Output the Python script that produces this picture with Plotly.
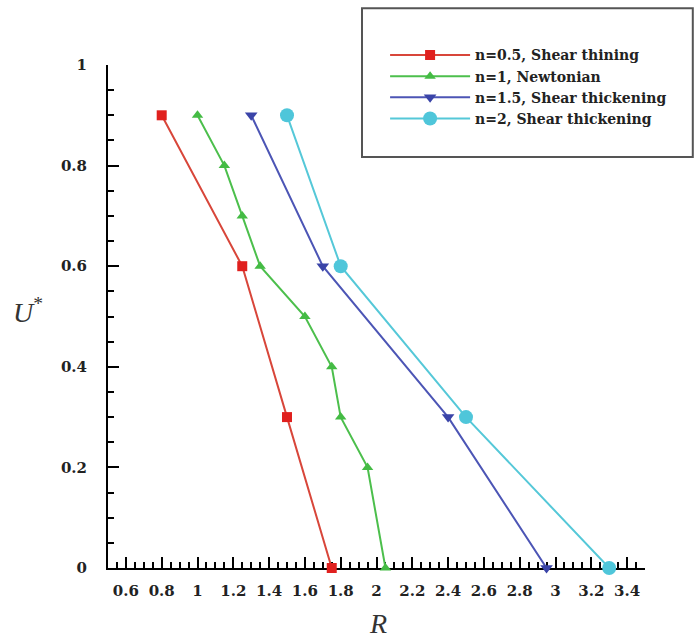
import plotly.graph_objects as go

# Radius R versus dimensionless velocity U* for several power-law indices
r_shear_thinning = [0.8, 1.25, 1.5, 1.75]
u_shear_thinning = [0.9, 0.6, 0.3, 0.0]

r_newtonian = [1.0, 1.15, 1.25, 1.35, 1.6, 1.75, 1.8, 1.95, 2.05]
u_newtonian = [0.9, 0.8, 0.7, 0.6, 0.5, 0.4, 0.3, 0.2, 0.0]

r_thick_15 = [1.3, 1.7, 2.4, 2.95]
u_thick_15 = [0.9, 0.6, 0.3, 0.0]

r_thick_2 = [1.5, 1.8, 2.5, 3.3]
u_thick_2 = [0.9, 0.6, 0.3, 0.0]

series_names = [
    "n=0.5, Shear thining",
    "n=1, Newtonian",
    "n=1.5, Shear thickening",
    "n=2, Shear thickening",
]

x_ticks = [0.6, 0.8, 1, 1.2, 1.4, 1.6, 1.8, 2, 2.2, 2.4, 2.6, 2.8, 3, 3.2, 3.4]
x_ticktext = ["0.6", "0.8", "1", "1.2", "1.4", "1.6", "1.8", "2", "2.2", "2.4", "2.6", "2.8", "3", "3.2", "3.4"]
y_ticks = [0, 0.2, 0.4, 0.6, 0.8, 1]
y_ticktext = ["0", "0.2", "0.4", "0.6", "0.8", "1"]

serif = "Liberation Serif, Times New Roman, serif"
label_serif = "DejaVu Serif, serif"

fig = go.Figure()

styles = [
    (r_shear_thinning, u_shear_thinning, "#d8463a", "#e0201e", "square", 10),
    (r_newtonian, u_newtonian, "#4cbf4c", "#44bb44", "triangle-up", 10),
    (r_thick_15, u_thick_15, "#4c55b5", "#3a44a8", "triangle-down", 11),
    (r_thick_2, u_thick_2, "#55c8d8", "#4fc6da", "circle", 14),
]

for (xs, ys, lc, mc, sym, sz), name in zip(styles, series_names):
    fig.add_trace(go.Scatter(
        x=xs, y=ys, name=name, mode="lines+markers",
        line=dict(color=lc, width=2),
        marker=dict(symbol=sym, size=sz, color=mc, line=dict(width=0)),
        cliponaxis=False,
    ))

axis_common = dict(
    showline=True, linecolor="black", linewidth=2,
    ticks="inside", ticklen=11, tickwidth=2, tickcolor="black",
    showgrid=False, zeroline=False, layer="below traces",
    tickfont=dict(family=label_serif, size=15, color="#222", weight="bold"),
)

fig.update_layout(
    width=696, height=638,
    margin=dict(l=108, r=51, t=65, b=70),
    paper_bgcolor="white", plot_bgcolor="white",
    xaxis=dict(
        range=[0.5, 3.5], tickvals=x_ticks, ticktext=x_ticktext,
        ticklabelstandoff=8,
        minor=dict(dtick=0.05, tick0=0, ticks="inside", ticklen=6, tickwidth=1.5, tickcolor="black"),
        **axis_common,
    ),
    yaxis=dict(
        range=[0, 1], tickvals=y_ticks, ticktext=y_ticktext,
        ticklabelstandoff=16,
        minor=dict(dtick=0.05, tick0=0, ticks="inside", ticklen=6, tickwidth=1.5, tickcolor="black"),
        **axis_common,
    ),
    showlegend=True,
    legend=dict(
        x=0.516, y=1.051, xanchor="left", yanchor="top",
        bgcolor="rgba(0,0,0,0)", borderwidth=0,
        font=dict(family=label_serif, size=14, color="#222", weight="bold"),
        itemwidth=80, tracegroupgap=0,
    ),
    shapes=[dict(
        type="rect", xref="paper", yref="paper",
        x0=0.473, x1=1.089, y0=0.817, y1=1.113,
        line=dict(color="#555", width=2), fillcolor="rgba(0,0,0,0)",
    )],
    annotations=[
        dict(text="<i>U</i><sup>*</sup>", xref="paper", yref="paper",
             x=-0.149, y=0.511, xanchor="center", yanchor="middle",
             showarrow=False,
             font=dict(family=serif, size=28, color="#333")),
        dict(text="<i>R</i>", xref="paper", yref="paper",
             x=0.503, y=-0.111, xanchor="center", yanchor="middle",
             showarrow=False,
             font=dict(family=serif, size=28, color="#333")),
    ],
)

fig.write_html("out.html")
